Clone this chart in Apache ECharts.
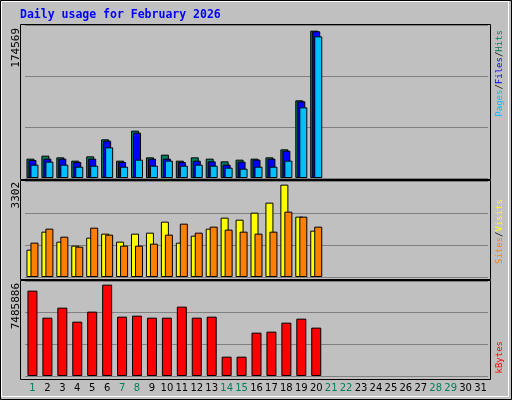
<!DOCTYPE html>
<html>
<head>
<meta charset="utf-8">
<script src="https://cdn.jsdelivr.net/npm/echarts@6/dist/echarts.min.js"></script>
<style>html,body{margin:0;padding:0;background:#c0c0c0}#chart{width:512px;height:400px}</style>
</head>
<body>
<div id="chart"></div>
<script>
var days = [];
for (var d = 1; d <= 31; d++) days.push(String(d));
var weekend = ['1', '7', '8', '14', '15', '21', '22', '28', '29'];

var hits = [22910, 26465, 24490, 20540, 25675, 45820, 20540, 56090, 24490, 27650, 20540, 24490, 22910, 19750, 21725, 22910, 24490, 33970, 92035, 174569];
var files = [21330, 22910, 22910, 18960, 22910, 44240, 18960, 53720, 22910, 22910, 18960, 20540, 19750, 15800, 19355, 21725, 22910, 32390, 90850, 173800];
var pages = [15800, 19355, 15800, 13430, 14615, 36340, 13430, 21725, 14615, 20540, 14615, 15800, 14615, 12245, 11060, 13430, 13430, 20540, 83740, 167875];
var visits = [977, 1621, 1264, 1120, 1407, 1550, 1264, 1550, 1585, 1979, 1228, 1478, 1728, 2122, 2050, 2300, 2658, 3302, 2157, 1657];
var sites = [1228, 1728, 1442, 1085, 1764, 1514, 1120, 1120, 1192, 1514, 1907, 1585, 1800, 1693, 1621, 1550, 1621, 2336, 2157, 1800];
var kbytes = [6994000, 4781000, 5601000, 4453000, 5273000, 7485886, 4863000, 4945000, 4781000, 4781000, 5683000, 4781000, 4863000, 1585000, 1585000, 3552000, 3634000, 4371000, 4699000, 3962000];

var myChart = echarts.init(document.getElementById('chart'));

var mono = 'DejaVu Sans Mono';
function xAxis(i, showLabels) {
    return {
        type: 'category', gridIndex: i, data: days,
        axisLine: { show: false }, axisTick: { show: false },
        axisLabel: {
            show: showLabels, margin: 7, fontSize: 10, fontFamily: 'DejaVu Sans',
            color: function (v) { return weekend.indexOf(v) >= 0 ? '#00805c' : '#000'; },
            interval: 0
        }
    };
}
function yAxis(i, max) {
    return {
        type: 'value', gridIndex: i, min: 0, max: max, interval: max / 3,
        axisLabel: { show: false }, axisLine: { show: false }, axisTick: { show: false },
        splitLine: { lineStyle: { color: '#808080', width: 1 } }
    };
}
function bar(name, x, data, color, width, gap) {
    return {
        name: name, type: 'bar', xAxisIndex: x, yAxisIndex: x, data: data,
        barWidth: width, barGap: gap, silent: true, animation: false,
        itemStyle: { color: color, borderColor: '#000', borderWidth: 1 }
    };
}
function vtext(x, y, rich, parts, size) {
    return {
        type: 'text', x: x, y: y, rotation: Math.PI / 2,
        style: { text: parts, rich: rich, align: 'right', verticalAlign: 'middle', font: size + 'px ' + mono }
    };
}
var rich = {
    g: { fill: '#00805c', fontFamily: mono, fontSize: 9 },
    b: { fill: '#0000ff', fontFamily: mono, fontSize: 9 },
    c: { fill: '#00bfff', fontFamily: mono, fontSize: 9 },
    k: { fill: '#000', fontFamily: mono, fontSize: 9 },
    y: { fill: '#ffff00', fontFamily: mono, fontSize: 9 },
    o: { fill: '#ff8000', fontFamily: mono, fontSize: 9 },
    r: { fill: '#ff0000', fontFamily: mono, fontSize: 9 }
};

myChart.setOption({
    backgroundColor: '#c0c0c0',
    animation: false,
    grid: [
        { left: 25, right: 24, top: 25, height: 153 },
        { left: 25, right: 24, top: 181, height: 96 },
        { left: 25, right: 24, top: 281, height: 95 }
    ],
    xAxis: [xAxis(0, false), xAxis(1, false), xAxis(2, true)],
    yAxis: [yAxis(0, 181299), yAxis(1, 3432), yAxis(2, 7785000)],
    series: [
        bar('Hits', 0, hits, '#00805c', 8, '-75%'),
        bar('Files', 0, files, '#0000ff', 8, '-75%'),
        bar('Pages', 0, pages, '#00bfff', 8, '-75%'),
        bar('Visits', 1, visits, '#ffff00', 8, '-50%'),
        bar('Sites', 1, sites, '#ff8000', 8, '-50%'),
        bar('KBytes', 2, kbytes, '#ff0000', 10, '0%')
    ],
    graphic: [
        { type: 'rect', shape: { x: 0.5, y: 0.5, width: 511, height: 399 }, style: { fill: null, stroke: '#000', lineWidth: 1 }, z: -1 },
        { type: 'rect', shape: { x: 1.5, y: 1.5, width: 507, height: 395 }, style: { fill: null, stroke: '#fff', lineWidth: 1 }, z: -1 },
        { type: 'rect', shape: { x: 20.5, y: 24.5, width: 470, height: 155 }, style: { fill: null, stroke: '#000', lineWidth: 1 } },
        { type: 'rect', shape: { x: 20.5, y: 180.5, width: 470, height: 99 }, style: { fill: null, stroke: '#000', lineWidth: 1 } },
        { type: 'rect', shape: { x: 20.5, y: 280.5, width: 470, height: 99 }, style: { fill: null, stroke: '#000', lineWidth: 1 } },
        { type: 'text', x: 20, y: 9, style: { text: 'Daily usage for February 2026', fill: '#0000ff', font: 'bold 11.5px ' + mono } },
        vtext(16, 28, {}, '174569', 11),
        vtext(16, 182, {}, '3302', 11),
        vtext(16, 283, {}, '7485886', 11),
        vtext(500, 30, rich, '{c|Pages}{k|/}{b|Files}{k|/}{g|Hits}', 9),
        vtext(500, 199, rich, '{o|Sites}{k|/}{y|Visits}', 9),
        vtext(500, 341, rich, '{r|kBytes}', 9)
    ]
});
</script>
</body>
</html>
